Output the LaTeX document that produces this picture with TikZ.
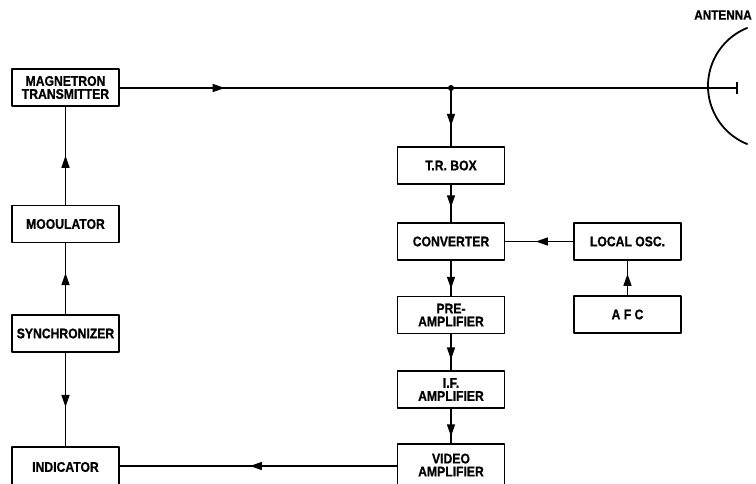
\documentclass[tikz,border=0pt]{standalone}
\usepackage{fontspec}
\setmainfont{Liberation Sans}
\newfontfamily\blkfont[FakeStretch=0.87,BoldFeatures={FakeBold=0.8}]{Liberation Sans}
\usetikzlibrary{arrows.meta,decorations.markings}
\tikzset{
  blk/.style={draw,line width=1.5pt,minimum width=107pt,minimum height=37pt,
    align=center,inner sep=1pt,font=\blkfont\bfseries\fontsize{14}{13}\selectfont},
  arrowat/.style={postaction={decorate},decoration={markings,
    mark=at position #1 with {\arrow{Triangle[length=12pt,width=8pt]}}}}
}
\begin{document}
\begin{tikzpicture}[x=1pt,y=-1pt,line join=round,line width=1.4pt]
	\useasboundingbox (0,0) rectangle (756,483);
	% transmitter side
	\node[blk] (mag) at (65.5,87.5) {MAGNETRON\\TRANSMITTER};
	\node[blk] (mod) at (65.5,224) {MOOULATOR};
	\node[blk] (sync) at (65.5,333.5) {SYNCHRONIZER};
	\node[blk,minimum height=40pt] (ind) at (65.5,467) {INDICATOR};
	% receiver side
	\node[blk] (trbox) at (451,165.5) {T.R. BOX};
	\node[blk] (conv) at (451,241.5) {CONVERTER};
	\node[blk] (lo) at (627.5,241.5) {LOCAL OSC.};
	\node[blk] (pre) at (451,315) {PRE-\\AMPLIFIER};
	\node[blk] (afc) at (627.5,314.5) {A F C};
	\node[blk] (ifamp) at (451,389.5) {I.F.\\AMPLIFIER};
	\node[blk,minimum height=42pt] (video) at (451,465) {VIDEO\\AMPLIFIER};
	% antenna
	\coordinate (feed) at (737,88);
	\coordinate (junc) at (trbox.north |- feed);
	\node[font=\blkfont\bfseries\fontsize{13.5}{12}\selectfont] (antlbl) at (723,15) {ANTENNA};
	\draw[line width=1.8pt,line cap=round] (770.6,86) ++(112:62.6pt) arc[start angle=112,end angle=248,radius=62.6pt];
	\draw[line width=1.6pt] (737,82) -- (737,94);
	% connections
	\draw[arrowat=0.17] (mag.east |- feed) -- (feed);
	\fill (junc) circle (3pt);
	\draw[arrowat=0.65] (junc) -- (trbox.north);
	\draw[arrowat=0.6] (trbox) -- (conv);
	\draw[arrowat=0.55] (lo) -- (conv);
	\draw[arrowat=0.8] (conv) -- (pre);
	\draw[arrowat=0.7] (pre) -- (ifamp);
	\draw[arrowat=0.8] (ifamp) -- (video);
	\draw[arrowat=0.62] (afc) -- (lo);
	\draw[arrowat=0.53] (video.west |- 0,466) -- (ind.east |- 0,466);
	\draw[arrowat=0.5] (mod) -- (mag);
	\draw[arrowat=0.58] (sync) -- (mod);
	\draw[arrowat=0.58] (sync) -- (ind);
\end{tikzpicture}
\end{document}
